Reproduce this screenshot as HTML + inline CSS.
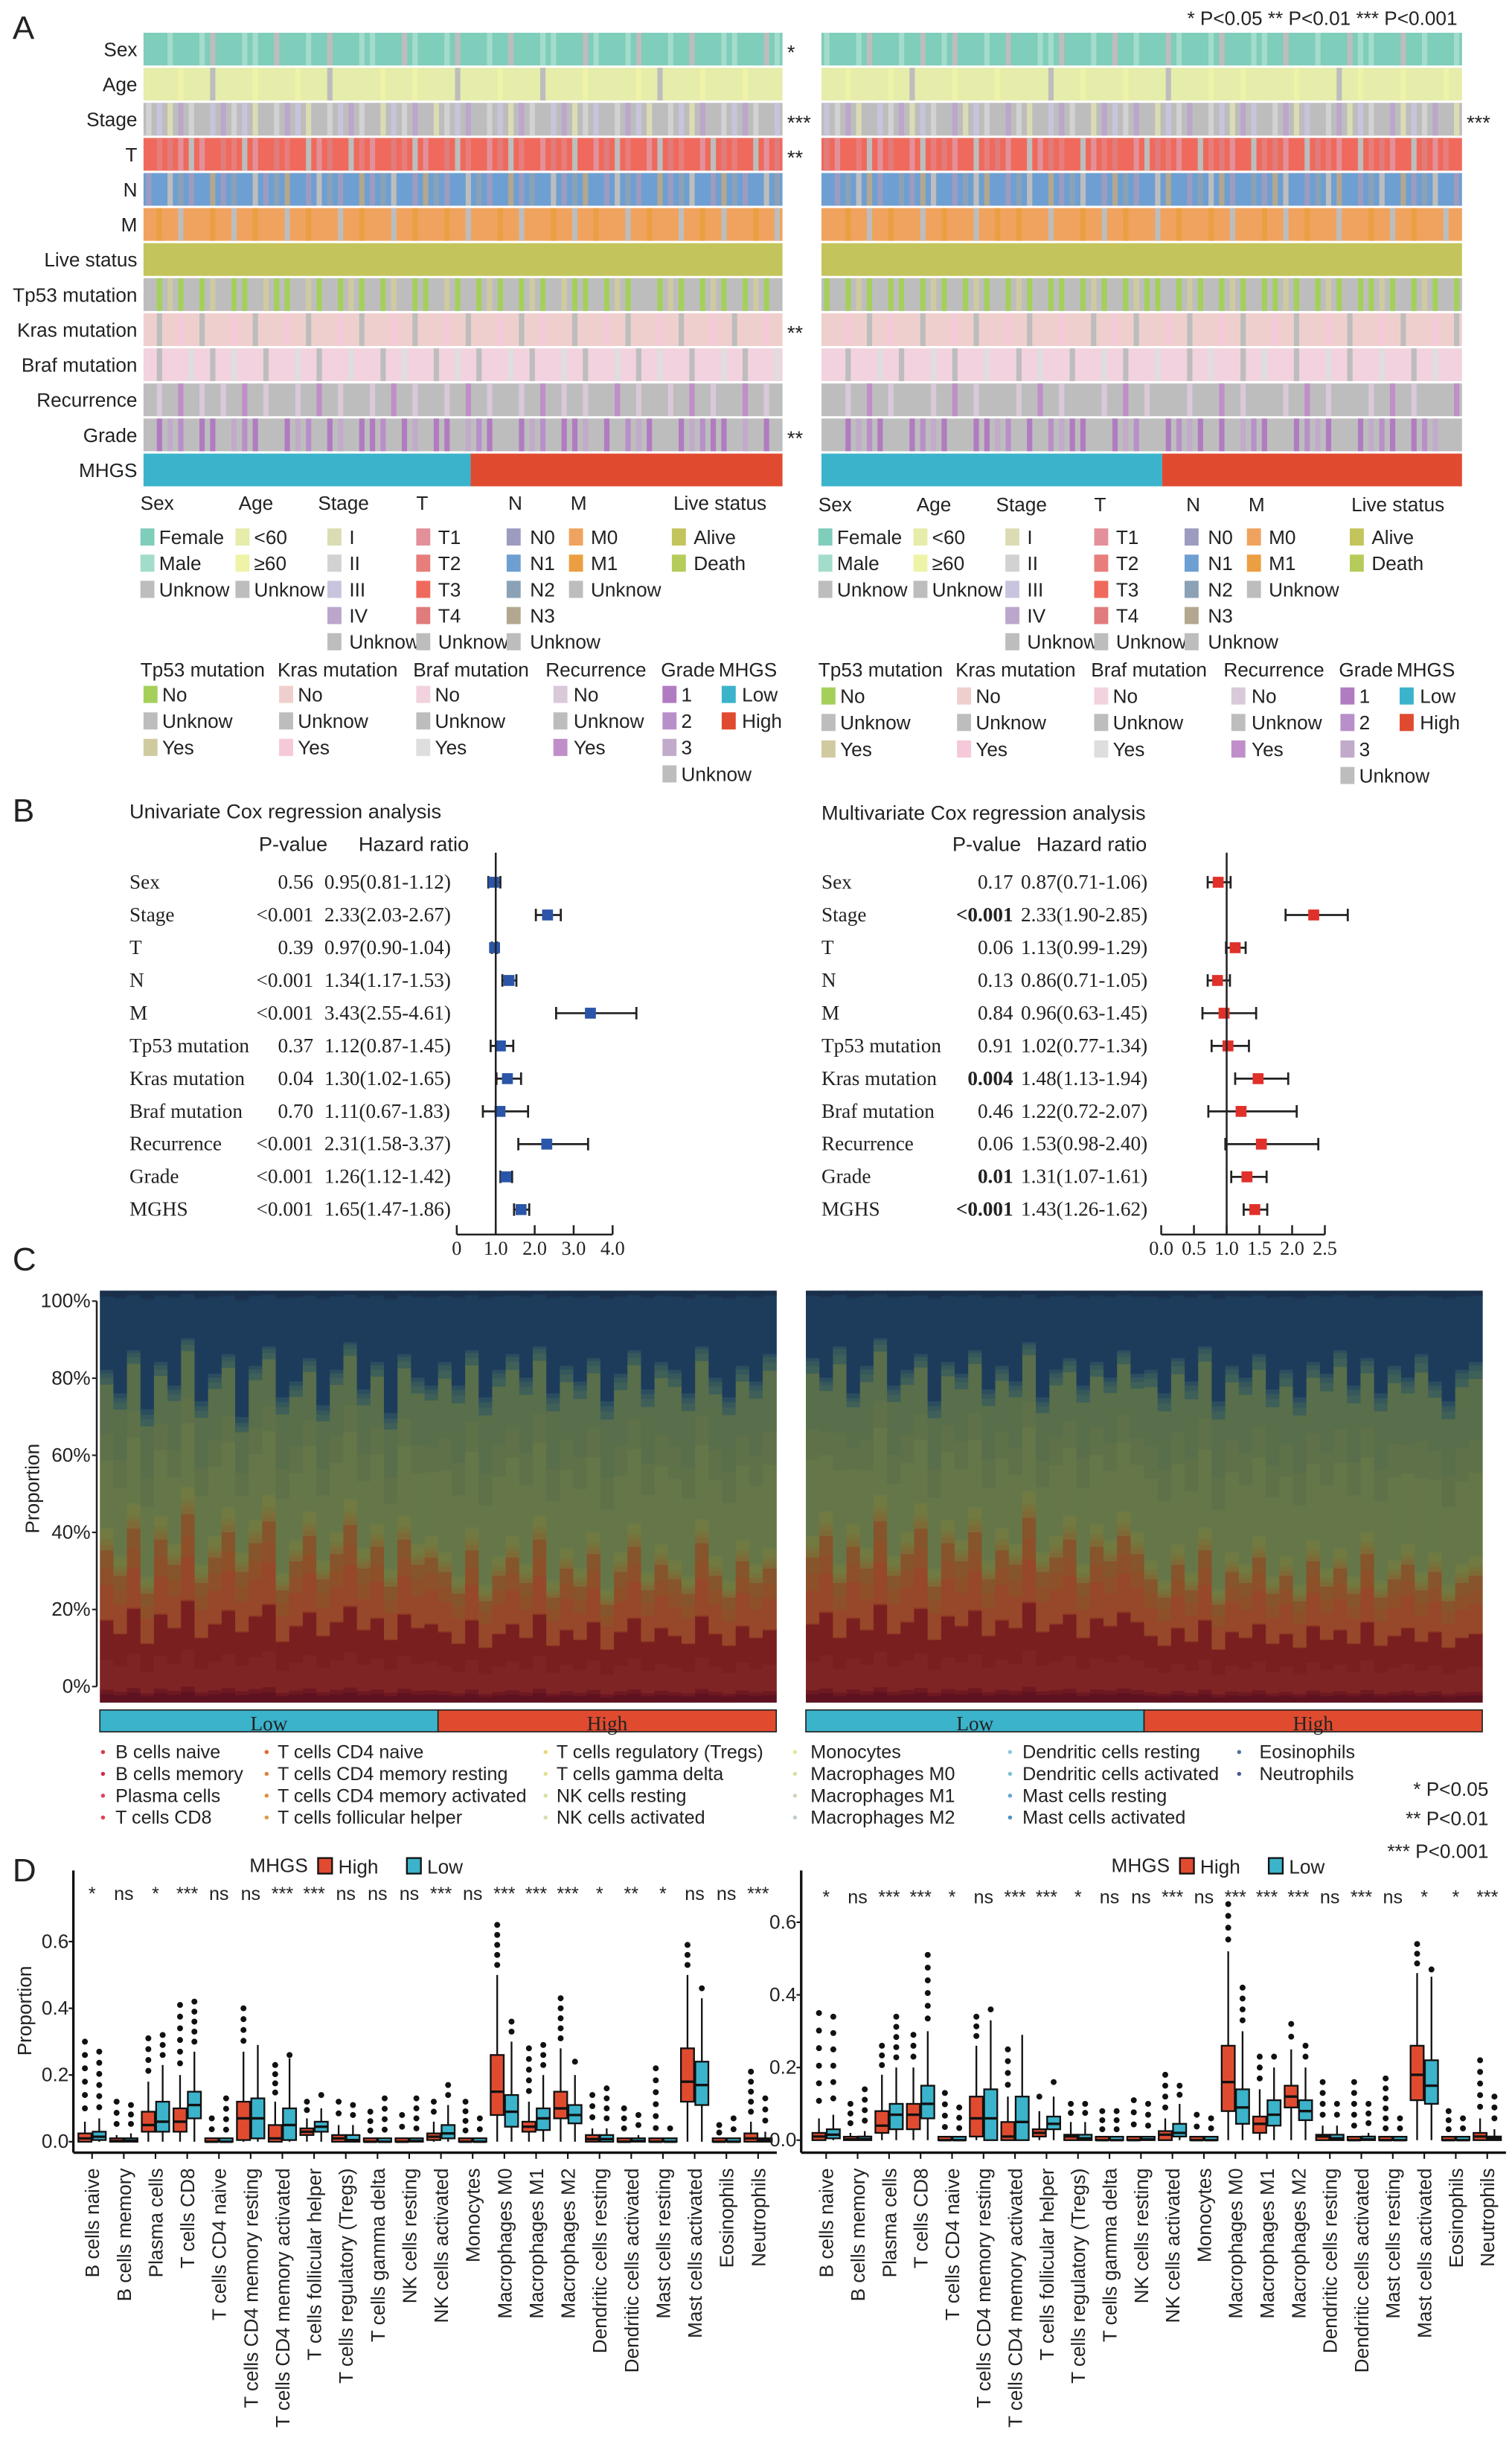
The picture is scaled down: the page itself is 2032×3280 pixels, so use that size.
<!DOCTYPE html>
<html><head><meta charset="utf-8"><title>MHGS figure</title>
<style>
html,body{margin:0;padding:0;background:#fff;}
svg{display:block;}
text{font-family:"Liberation Sans",sans-serif;fill:#222;}
.serif{font-family:"Liberation Serif",serif;}
</style></head>
<body>
<svg id="fig" xmlns="http://www.w3.org/2000/svg" width="2032" height="3280" viewBox="0 0 970 1566">
<rect x="0" y="0" width="970" height="1566" fill="#fff"/>
<text x="8" y="25" font-size="21">A</text>
<text x="8" y="527" font-size="21">B</text>
<text x="8" y="815" font-size="21">C</text>
<text x="8" y="1207" font-size="21">D</text>
<text x="935" y="16" font-size="12.5" text-anchor="end">* P&lt;0.05  ** P&lt;0.01  *** P&lt;0.001</text>
<text x="83" y="525" font-size="13">Univariate Cox regression analysis</text>
<text x="166" y="546" font-size="13">P-value</text>
<text x="230" y="546" font-size="13">Hazard ratio</text>
<text x="527" y="526" font-size="13">Multivariate Cox regression analysis</text>
<text x="611" y="546" font-size="13">P-value</text>
<text x="665" y="546" font-size="13">Hazard ratio</text>
</svg>
<script>
const NS='http://www.w3.org/2000/svg';
const svg=document.getElementById('fig');
function mk(tag,attrs,parent){const e=document.createElementNS(NS,tag);for(const k in attrs)e.setAttribute(k,attrs[k]);(parent||svg).appendChild(e);return e;}
function tx(str,attrs){const e=mk('text',attrs);e.textContent=str;return e;}

/* ---------------- Panel A data ---------------- */
const rowNames=['Sex','Age','Stage','T','N','M','Live status','Tp53 mutation','Kras mutation','Braf mutation','Recurrence','Grade'];
const rowPalettes=[
 ['#7fcdbb','#a3dccb','#bdbdbd'],
 ['#e6ecaa','#eef3a8','#bdbdbd'],
 ['#dcdcb4','#d2d2d2','#c9c4dd','#bca6cc','#bdbdbd'],
 ['#e3909b','#e77e7c','#ef6a5c','#e07c7c','#bdbdbd'],
 ['#9c9cc0','#6e9fd2','#8ba1b6','#b3a78f','#bdbdbd'],
 ['#f0a35e','#eb9f42','#bdbdbd'],
 ['#c4c45c','#b6cc5a'],
 ['#a4d05a','#bdbdbd','#d0caa0'],
 ['#efcfcd','#bdbdbd','#f5c9d9'],
 ['#f2d2de','#bdbdbd','#dedede'],
 ['#d9c9d9','#bdbdbd','#c08ec9'],
 ['#b17bc1','#b98fc9','#c2aacb','#bdbdbd']
];
const rowBaseCode=['0','0','4','2','1','0','0','1','0','0','1','3'];
const rowCodesLeft=[
 '001001200110200102001100210012001020011002100120010200110021',
 '000100200010001002000010010002000100020001000010200010001000',
 '120314231204132041231402134012341203142301241320412034123142',
 '213040231402312403241023140234120341203142034120431204312403',
 '014201302140231042013024103201420130214023104201302410320142',
 '010200102010020100201002010010200102001020100201002010200102',
 '000000000000000000000000000000000000000000000000000000000000',
 '102010210012001201020102100120102010201200102011020102010201',
 '010201002010020100201002010020100201020010020100201002010020',
 '010020102001002010020010200102010020100201002010200100201002',
 '101210101210110121011012101101210110121010112101101210112101',
 '302130032103302130230013023003210330213002303120330210032303'
];
const rowCodesRight=[
 '100120010201200102001120010201002100120011020010021100201001',
 '001000102000100010000200100010002000100100001000201000100010',
 '213042130214302143104231403213402134120324130241302143021340',
 '302140320413024130240312401320431024130241302431024130243012',
 '102430120341024310241302410320143102430120341024310241302410',
 '001020100201002010100200102010020100102001020100200102010020',
 '000000000000000000000000000000000000000000000000000000000000',
 '010201001020102010201001020102001020102010020102010020102010',
 '002010200100201002010020010201002010020100201002010020100201',
 '001002010020100200102001002010020010200102001002010020010200',
 '110121011101210111012101110121011101121011101210111012101112',
 '330210330120330021303120033021330120303210330120330210301233'
];
const sigLeft=['*','','***','**','','','','','**','','','**'];
const sigRight=['','','***','','','','','','','','',''];
const mhgsSplitLeft=0.512, mhgsSplitRight=0.532;

function heatmap(x0,width,codes,sigs,split,side){
  const rowTop=i=>21+i*22.5;
  const n=codes[0].length, cw=width/n;
  for(let i=0;i<codes.length;i++){
    const base=rowBaseCode[i];
    const bg=mk('rect',{x:x0,y:rowTop(i),width:width,height:21,fill:rowPalettes[i][+base]});
    
    
    for(let j=0;j<n;j++){
      if(codes[i][j]===base) continue;
      const c=rowPalettes[i][+codes[i][j]];
      const r=mk('rect',{x:(x0+j*cw+cw*0.25).toFixed(2),y:rowTop(i),width:(cw*0.5).toFixed(2),height:21,fill:c});
      
      
    }
    if(side==='left'){
      const t=tx(rowNames[i],{x:88,y:rowTop(i)+15,'font-size':12.5,'text-anchor':'end'});
      
      
    }
    if(sigs[i]){
      const s=tx(sigs[i],{x:x0+width+3,y:rowTop(i)+17,'font-size':13,fill:'#555'});
      
      
    }
  }
  const yM=rowTop(12);
  if(side==='left'){
    const t=tx('MHGS',{x:88,y:yM+15,'font-size':12.5,'text-anchor':'end'});
    
    
  }
  const lo=mk('rect',{x:x0,y:yM,width:width*split,height:21,fill:'#3bb3cb'});
  
  
  const hi=mk('rect',{x:x0+width*split,y:yM,width:width*(1-split),height:21,fill:'#e04b30'});
  
  
}
heatmap(92,410,rowCodesLeft,sigLeft,mhgsSplitLeft,'left');
heatmap(527,411,rowCodesRight,sigRight,mhgsSplitRight,'right');

/* legend for A */
const legGroups1=[
 {h:'Sex',hx:0,sx:0,tx:12,items:[['Female','#7fcdbb'],['Male','#a3dccb'],['Unknow','#bdbdbd']]},
 {h:'Age',hx:63,sx:61,tx:73,items:[['<60','#e6ecaa'],['\u226560','#eef3a8'],['Unknow','#bdbdbd']]},
 {h:'Stage',hx:114,sx:120,tx:134,items:[['I','#dcdcb4'],['II','#d2d2d2'],['III','#c9c4dd'],['IV','#bca6cc'],['Unknow','#bdbdbd']]},
 {h:'T',hx:177,sx:177,tx:191,items:[['T1','#e3909b'],['T2','#e77e7c'],['T3','#ef6a5c'],['T4','#e07c7c'],['Unknow','#bdbdbd']]},
 {h:'N',hx:236,sx:235,tx:250,items:[['N0','#9c9cc0'],['N1','#6e9fd2'],['N2','#8ba1b6'],['N3','#b3a78f'],['Unknow','#bdbdbd']]},
 {h:'M',hx:276,sx:275,tx:289,items:[['M0','#f0a35e'],['M1','#eb9f42'],['Unknow','#bdbdbd']]},
 {h:'Live status',hx:342,sx:341,tx:355,items:[['Alive','#c4c45c'],['Death','#b6cc5a']]}
];
const legGroups2=[
 {h:'Tp53 mutation',hx:0,sx:2,tx:14,items:[['No','#a4d05a'],['Unknow','#bdbdbd'],['Yes','#d0caa0']]},
 {h:'Kras mutation',hx:88,sx:89,tx:101,items:[['No','#efcfcd'],['Unknow','#bdbdbd'],['Yes','#f5c9d9']]},
 {h:'Braf mutation',hx:175,sx:177,tx:189,items:[['No','#f2d2de'],['Unknow','#bdbdbd'],['Yes','#dedede']]},
 {h:'Recurrence',hx:260,sx:265,tx:278,items:[['No','#d9c9d9'],['Unknow','#bdbdbd'],['Yes','#c08ec9']]},
 {h:'Grade',hx:334,sx:335,tx:347,items:[['1','#b17bc1'],['2','#b98fc9'],['3','#c2aacb'],['Unknow','#bdbdbd']]},
 {h:'MHGS',hx:371,sx:373,tx:386,items:[['Low','#3bb3cb'],['High','#e04b30']]}
];
function legendBlock(ox,groups,hy,iy,step){
  for(const g of groups){
    const h=tx(g.h,{x:ox+g.hx,y:hy,'font-size':12.5});
    
    
    g.items.forEach((it,k)=>{
      const y=iy+k*step;
      const sq=mk('rect',{x:ox+g.sx,y:y-10,width:9,height:11,fill:it[1]});
      
      
      const t=tx(it[0],{x:ox+g.tx,y:y,'font-size':12.5});
      
      
    });
  }
}
legendBlock(90,legGroups1,327,349,16.8);
legendBlock(90,legGroups2,434,450,17);
legendBlock(525,legGroups1,328,349,16.8);
legendBlock(525,legGroups2,434,451,17);

/* ---------------- Panel B data ---------------- */
const coxVars=['Sex','Stage','T','N','M','Tp53 mutation','Kras mutation','Braf mutation','Recurrence','Grade','MGHS'];
const uniP=['0.56','<0.001','0.39','<0.001','<0.001','0.37','0.04','0.70','<0.001','<0.001','<0.001'];
const uniHR=[0.95,2.33,0.97,1.34,3.43,1.12,1.30,1.11,2.31,1.26,1.65];
const uniLo=[0.81,2.03,0.90,1.17,2.55,0.87,1.02,0.67,1.58,1.12,1.47];
const uniHi=[1.12,2.67,1.04,1.53,4.61,1.45,1.65,1.83,3.37,1.42,1.86];
const multiP=['0.17','<0.001','0.06','0.13','0.84','0.91','0.004','0.46','0.06','0.01','<0.001'];
const multiBold=[false,true,false,false,false,false,true,false,false,true,true];
const multiHR=[0.87,2.33,1.13,0.86,0.96,1.02,1.48,1.22,1.53,1.31,1.43];
const multiLo=[0.71,1.90,0.99,0.71,0.63,0.77,1.13,0.72,0.98,1.07,1.26];
const multiHi=[1.06,2.85,1.29,1.05,1.45,1.34,1.94,2.07,2.40,1.61,1.62];
const uniTicks=[0,1,2,3,4], uniTickLabels=['0','1.0','2.0','3.0','4.0'];
const multiTicks=[0,0.5,1,1.5,2,2.5], multiTickLabels=['0.0','0.5','1.0','1.5','2.0','2.5'];

function forest(o){
  const rowY=i=>566+i*21;
  const xs=v=>o.x0+v*o.k;
  coxVars.forEach((nm,i)=>{
    const y=rowY(i)+4;
    const a=tx(nm,{x:o.lx,y:y,'font-size':13,class:'serif'});
    
    
    const p=tx(o.p[i],{x:o.px,y:y,'font-size':13,'text-anchor':'end',class:'serif','font-weight':(o.bold&&o.bold[i])?'bold':'normal'});
    
    
    const h=tx(o.hr[i].toFixed(2)+'('+o.lo[i].toFixed(2)+'-'+o.hi[i].toFixed(2)+')',{x:o.hx,y:y,'font-size':13,class:'serif'});
    
    
    const ci=mk('line',{x1:xs(o.lo[i]),x2:xs(o.hi[i]),y1:rowY(i),y2:rowY(i),stroke:'#222','stroke-width':1.3});
    
    
    for(const v of [o.lo[i],o.hi[i]]){
      const c=mk('line',{x1:xs(v),x2:xs(v),y1:rowY(i)-4,y2:rowY(i)+4,stroke:'#222','stroke-width':1.3});
      
      
    }
    const sq=mk('rect',{x:xs(o.hr[i])-3.5,y:rowY(i)-3.5,width:7,height:7,fill:o.col});
    
    
  });
  const ref=mk('line',{x1:xs(1),x2:xs(1),y1:547,y2:792,stroke:'#222','stroke-width':1.2});
  
  
  const ax=mk('line',{x1:xs(o.ticks[0]),x2:xs(o.ticks[o.ticks.length-1]),y1:792,y2:792,stroke:'#222','stroke-width':1.2});
  
  
  o.ticks.forEach((v,k)=>{
    const t=mk('line',{x1:xs(v),x2:xs(v),y1:786,y2:792,stroke:'#222','stroke-width':1.2});
    
    
    const l=tx(o.tl[k],{x:xs(v),y:805,'font-size':12.5,'text-anchor':'middle',class:'serif'});
    
    
  });
}
forest({lx:83,px:201,hx:208,x0:293,k:25,p:uniP,hr:uniHR,lo:uniLo,hi:uniHi,ticks:uniTicks,tl:uniTickLabels,col:'#2a55a8'});
forest({lx:527,px:650,hx:655,x0:745,k:42,p:multiP,bold:multiBold,hr:multiHR,lo:multiLo,hi:multiHi,ticks:multiTicks,tl:multiTickLabels,col:'#e0302a'});

/* ---------------- Panel C data ---------------- */
const cellTypes=['B cells naive','B cells memory','Plasma cells','T cells CD8','T cells CD4 naive','T cells CD4 memory resting','T cells CD4 memory activated','T cells follicular helper','T cells regulatory (Tregs)','T cells gamma delta','NK cells resting','NK cells activated','Monocytes','Macrophages M0','Macrophages M1','Macrophages M2','Dendritic cells resting','Dendritic cells activated','Mast cells resting','Mast cells activated','Eosinophils','Neutrophils'];
const cellColors=['#5e1220','#6e1822','#7e2424','#7a1f1f','#8e3822','#97472a','#8e5029','#86552b','#7e6a36','#7a7038','#76743d','#717a41','#6c7a46','#657748','#5e7149','#596e4b','#3e6058','#36585b','#2a4d60','#1d3c5b','#1b3450','#1a2f49'];
const cellMeans=[0.02,0.01,0.07,0.09,0.003,0.08,0.04,0.04,0.012,0.006,0.01,0.02,0.005,0.15,0.06,0.11,0.015,0.01,0.01,0.2,0.004,0.012];
const cellGroup=[0,0,0,0,0,0,0,0,0,0,0,0,1,1,1,1,1,1,2,2,2,2];
const lymphTopLeft=[0.42,0.35,0.48,0.30,0.45,0.38,0.52,0.33,0.40,0.47,0.36,0.44,0.50,0.31,0.39,0.46,0.34,0.41,0.49,0.37,0.43,0.32,0.45,0.38,0.40,0.36,0.30,0.42,0.28,0.35,0.40,0.33,0.45,0.29,0.37,0.32,0.41,0.27,0.36,0.43,0.31,0.38,0.34,0.30,0.44,0.35,0.29,0.39,0.33,0.37];
const myeloTopLeft=[0.80,0.74,0.85,0.70,0.82,0.76,0.88,0.72,0.79,0.84,0.68,0.81,0.86,0.73,0.77,0.83,0.71,0.80,0.87,0.75,0.82,0.69,0.84,0.78,0.76,0.82,0.76,0.85,0.73,0.80,0.84,0.78,0.86,0.74,0.81,0.77,0.83,0.72,0.79,0.85,0.75,0.82,0.80,0.74,0.86,0.78,0.73,0.81,0.77,0.84];
const lymphTopRight=[0.40,0.46,0.33,0.43,0.37,0.50,0.35,0.41,0.48,0.32,0.44,0.39,0.47,0.34,0.42,0.38,0.51,0.36,0.40,0.45,0.33,0.43,0.39,0.46,0.41,0.34,0.29,0.38,0.31,0.42,0.27,0.36,0.33,0.40,0.30,0.35,0.28,0.39,0.32,0.37,0.30,0.41,0.29,0.34,0.38,0.31,0.36,0.28,0.33,0.35];
const myeloTopRight=[0.83,0.78,0.86,0.74,0.81,0.88,0.76,0.80,0.84,0.72,0.82,0.79,0.85,0.75,0.81,0.77,0.87,0.73,0.80,0.83,0.76,0.82,0.78,0.85,0.79,0.80,0.74,0.83,0.77,0.86,0.72,0.81,0.78,0.84,0.75,0.80,0.73,0.82,0.79,0.85,0.76,0.83,0.74,0.81,0.78,0.84,0.77,0.72,0.80,0.82];
const groupLowCount=25;
const pctTicks=[0,0.2,0.4,0.6,0.8,1.0], pctTickLabels=['0%','20%','40%','60%','80%','100%'];

function stacked(x0,width,lymph,myelo,axis,side){
  const yb=v=>1092-v*264;
  const yt=v=>1082-v*247.3;
  const n=lymph.length, bw=width/n;
  const gsum=[0,0,0];
  cellMeans.forEach((m,k)=>gsum[cellGroup[k]]+=m);
  for(let j=0;j<n;j++){
    const bounds=[[0,lymph[j]],[lymph[j],myelo[j]],[myelo[j],1]];
    let acc=[0,0,0];
    for(let k=0;k<cellTypes.length;k++){
      const g=cellGroup[k];
      const [a,b]=bounds[g];
      const s=a+(b-a)*acc[g]/gsum[g];
      acc[g]+=cellMeans[k];
      const e=a+(b-a)*acc[g]/gsum[g];
      const r=mk('rect',{x:(x0+j*bw).toFixed(2),y:yb(e).toFixed(2),width:(bw+0.3).toFixed(2),height:(yb(s)-yb(e)+0.3).toFixed(2),fill:cellColors[k]});
      
      
    }
  }
  if(axis){
    const ax=mk('line',{x1:x0-2,x2:x0-2,y1:yt(1),y2:yt(0),stroke:'#222','stroke-width':1.2});
    
    
    pctTicks.forEach((v,k)=>{
      const t=mk('line',{x1:x0-5,x2:x0-2,y1:yt(v),y2:yt(v),stroke:'#222','stroke-width':1});
      
      
      const l=tx(pctTickLabels[k],{x:x0-6,y:yt(v)+4,'font-size':12.5,'text-anchor':'end'});
      
      
    });
    const yl=tx('Proportion',{x:0,y:0,'font-size':12.5,'text-anchor':'middle',transform:'translate(25,955) rotate(-90)'});
    
    
  }
  const split=groupLowCount/n;
  const lo=mk('rect',{x:x0,y:1097,width:width*split,height:14,fill:'#3bb3cb',stroke:'#222','stroke-width':0.8});
  
  
  const hi=mk('rect',{x:x0+width*split,y:1097,width:width*(1-split),height:14,fill:'#e04b30',stroke:'#222','stroke-width':0.8});
  
  
  const lt=tx('Low',{x:x0+width*split/2,y:1110,'font-size':13,'text-anchor':'middle',class:'serif',fill:'#2a4d60'});
  
  
  const ht=tx('High',{x:x0+width*(split+ (1-split)/2),y:1110,'font-size':13,'text-anchor':'middle',class:'serif',fill:'#7a1f1f'});
  
  
}
stacked(64,434,lymphTopLeft,myeloTopLeft,true,'left');
stacked(517,434,lymphTopRight,myeloTopRight,false,'right');

/* legend C */
const legC=[[66,74,0,4],[171,178,4,8],[350,357,8,12],[510,520,12,16],[648,656,16,20],[795,808,20,22]];
const dotColors=['#d63a4a','#d02a48','#d8405a','#e04050','#e06a30','#e08038','#e0903a','#e09a40','#e8d880','#e0e090','#d8e0a0','#d0e0a8','#e0e8a0','#d8e0a0','#c8d8b8','#c0d0c8','#90c8d8','#80c0d0','#60a8d0','#4890c8','#5070a0','#405890'];
legC.forEach(c=>{
  for(let k=c[2];k<c[3];k++){
    const y=1128+(k-c[2])*14;
    const d=mk('circle',{cx:c[0],cy:y-4,r:1.3,fill:dotColors[k]});
    
    
    const t=tx(cellTypes[k],{x:c[1],y:y,'font-size':12});
    
    
  }
});
const pKey=['* P<0.05','** P<0.01','*** P<0.001'];
pKey.forEach((s,k)=>{
  const t=tx(s,{x:955,y:[1152,1171,1192][k],'font-size':12.5,'text-anchor':'end'});
  
  
});

/* ---------------- Panel D data ---------------- */
const sigDLeft=['*','ns','*','***','ns','ns','***','***','ns','ns','ns','***','ns','***','***','***','*','**','*','ns','ns','***'];
const sigDRight=['*','ns','***','***','*','ns','***','***','*','ns','ns','***','ns','***','***','***','ns','***','ns','*','*','***'];
/* [q1, median, q3, upper whisker, max outlier] */
const highLeft=[[0,.01,.025,.06,.3],[0,.002,.008,.02,.12],[.03,.05,.09,.18,.31],[.03,.06,.1,.2,.41],[0,0,.002,.005,.07],[.005,.07,.12,.27,.4],[0,.01,.05,.12,.23],[.02,.03,.04,.07,.12],[0,.01,.02,.05,.12],[0,0,.002,.005,.09],[0,0,.005,.01,.08],[.005,.015,.025,.06,.12],[0,0,.002,.005,.12],[.08,.15,.26,.5,.65],[.03,.045,.06,.12,.28],[.07,.1,.15,.28,.43],[0,.008,.02,.04,.14],[0,0,.005,.01,.1],[0,0,.002,.005,.22],[.12,.18,.28,.5,.59],[0,0,.002,.005,.05],[0,.01,.025,.06,.21]];
const lowLeft=[[.005,.015,.03,.07,.27],[0,.003,.01,.025,.11],[.03,.06,.12,.23,.32],[.07,.11,.15,.27,.42],[0,0,.002,.005,.13],[.01,.07,.13,.29,.29],[.005,.05,.1,.25,.26],[.03,.045,.06,.1,.14],[0,.005,.02,.05,.11],[0,0,.002,.005,.13],[0,.002,.006,.01,.13],[.01,.025,.05,.11,.17],[0,0,.002,.005,.07],[.045,.09,.14,.3,.36],[.035,.07,.1,.2,.29],[.055,.08,.11,.2,.24],[0,.008,.02,.04,.16],[0,.002,.01,.02,.08],[0,0,.002,.005,.04],[.11,.17,.24,.43,.46],[0,0,.002,.005,.07],[0,.005,.01,.03,.13]];
const highRight=[[0,.01,.02,.06,.35],[0,.002,.008,.02,.1],[.02,.04,.08,.18,.26],[.03,.07,.1,.2,.29],[0,0,.002,.005,.13],[.01,.06,.12,.26,.34],[0,.01,.05,.12,.25],[.01,.02,.03,.08,.12],[0,.01,.015,.05,.1],[0,0,.002,.005,.08],[0,0,.005,.01,.11],[0,.015,.025,.06,.18],[0,0,.002,.005,.07],[.08,.16,.26,.52,.65],[.02,.045,.065,.14,.23],[.09,.12,.15,.25,.32],[0,.01,.015,.04,.16],[0,0,.005,.01,.16],[0,0,.002,.005,.17],[.11,.18,.26,.46,.54],[0,0,.002,.005,.08],[0,.01,.02,.06,.22]];
const lowRight=[[.005,.015,.03,.07,.34],[0,.003,.01,.025,.14],[.03,.07,.1,.2,.34],[.06,.1,.15,.3,.51],[0,0,.002,.005,.09],[0,.06,.14,.33,.36],[0,.05,.12,.29,.29],[.03,.045,.065,.12,.16],[0,.005,.015,.05,.1],[0,0,.002,.005,.08],[0,.002,.008,.01,.1],[.01,.02,.045,.1,.15],[0,0,.002,.005,.06],[.045,.09,.14,.3,.42],[.04,.07,.11,.2,.23],[.055,.08,.11,.2,.26],[0,.005,.015,.04,.1],[0,.002,.01,.02,.1],[0,0,.002,.005,.06],[.1,.15,.22,.45,.47],[0,0,.002,.005,.06],[0,.005,.01,.03,.12]];
const propTicks=[0,0.2,0.4,0.6], propTickLabels=['0.0','0.2','0.4','0.6'];

function boxplots(o){
  const xs=i=>o.cx0+i*o.step;
  const ys=v=>o.y0-v*o.k;
  const yax=mk('line',{x1:o.ax,x2:o.ax,y1:1200,y2:1381,stroke:'#111','stroke-width':1.6});
  
  
  const xax=mk('line',{x1:o.ax,x2:o.cx0+21*o.step+12,y1:1381,y2:1381,stroke:'#111','stroke-width':1.6});
  
  
  propTicks.forEach((v,k)=>{
    const t=mk('line',{x1:o.ax-3,x2:o.ax,y1:ys(v),y2:ys(v),stroke:'#111','stroke-width':1});
    
    
    const l=tx(propTickLabels[k],{x:o.ax-3,y:ys(v)+4,'font-size':12.5,'text-anchor':'end',fill:'#333'});
    
    
  });
  if(o.title){
    const yl=tx('Proportion',{x:0,y:0,'font-size':12.5,'text-anchor':'middle',transform:'translate(20,1290) rotate(-90)'});
    
    
  }
  cellTypes.forEach((nm,i)=>{
    const cx=xs(i);
    const s=tx(o.sig[i],{x:cx,y:o.sigY,'font-size':12,'text-anchor':'middle',fill:'#555'});
    
    
    const tk=mk('line',{x1:cx,x2:cx,y1:1381,y2:1385,stroke:'#111','stroke-width':1});
    
    
    const lb=tx(nm,{x:0,y:0,'font-size':12.5,'text-anchor':'end',transform:'translate('+(cx+4.5)+',1391) rotate(-90)'});
    
    
    [[o.high[i],'#e04b30',-4.6],[o.low[i],'#3bb3cb',4.6]].forEach(([d,col,off])=>{
      const bx=cx+off;
      const wl=mk('line',{x1:bx,x2:bx,y1:ys(d[3]),y2:ys(0),stroke:'#111','stroke-width':1.1});
      
      
      if(d[4]>d[3]+0.005){
        const nOut=Math.min(6,Math.max(1,Math.round((d[4]-d[3])/0.03)));
        for(let q=1;q<=nOut;q++){
          const v=d[3]+(d[4]-d[3])*q/nOut;
          const c=mk('circle',{cx:bx,cy:ys(v),r:1.9,fill:'#111'});
          
          
        }
      }
      const h=Math.max(2.2,ys(d[0])-ys(d[2]));
      const r=mk('rect',{x:bx-4.2,y:Math.min(ys(d[2]),ys(d[0])-2.2),width:8.4,height:h,fill:col,stroke:'#111','stroke-width':1.1});
      
      
      const m=mk('line',{x1:bx-4.2,x2:bx+4.2,y1:ys(d[1]),y2:ys(d[1]),stroke:'#111','stroke-width':1.6});
      
      
    });
  });
  const lg=tx('MHGS',{x:o.lgx,y:1201,'font-size':12.5});
  
  
  [['High','#e04b30',44],['Low','#3bb3cb',101]].forEach(([t,c,dx])=>{
    const r=mk('rect',{x:o.lgx+dx,y:1192,width:9,height:10,fill:c,stroke:'#111','stroke-width':1.1});
    
    
    const l=tx(t,{x:o.lgx+dx+13,y:1202,'font-size':12.5});
    
    
  });
}
boxplots({ax:47,cx0:59,step:20.35,y0:1374,k:214,high:highLeft,low:lowLeft,sig:sigDLeft,sigY:1219,title:true,lgx:160});
boxplots({ax:514,cx0:530,step:20.2,y0:1373,k:233,high:highRight,low:lowRight,sig:sigDRight,sigY:1221,title:false,lgx:713});
</script>
</body></html>
